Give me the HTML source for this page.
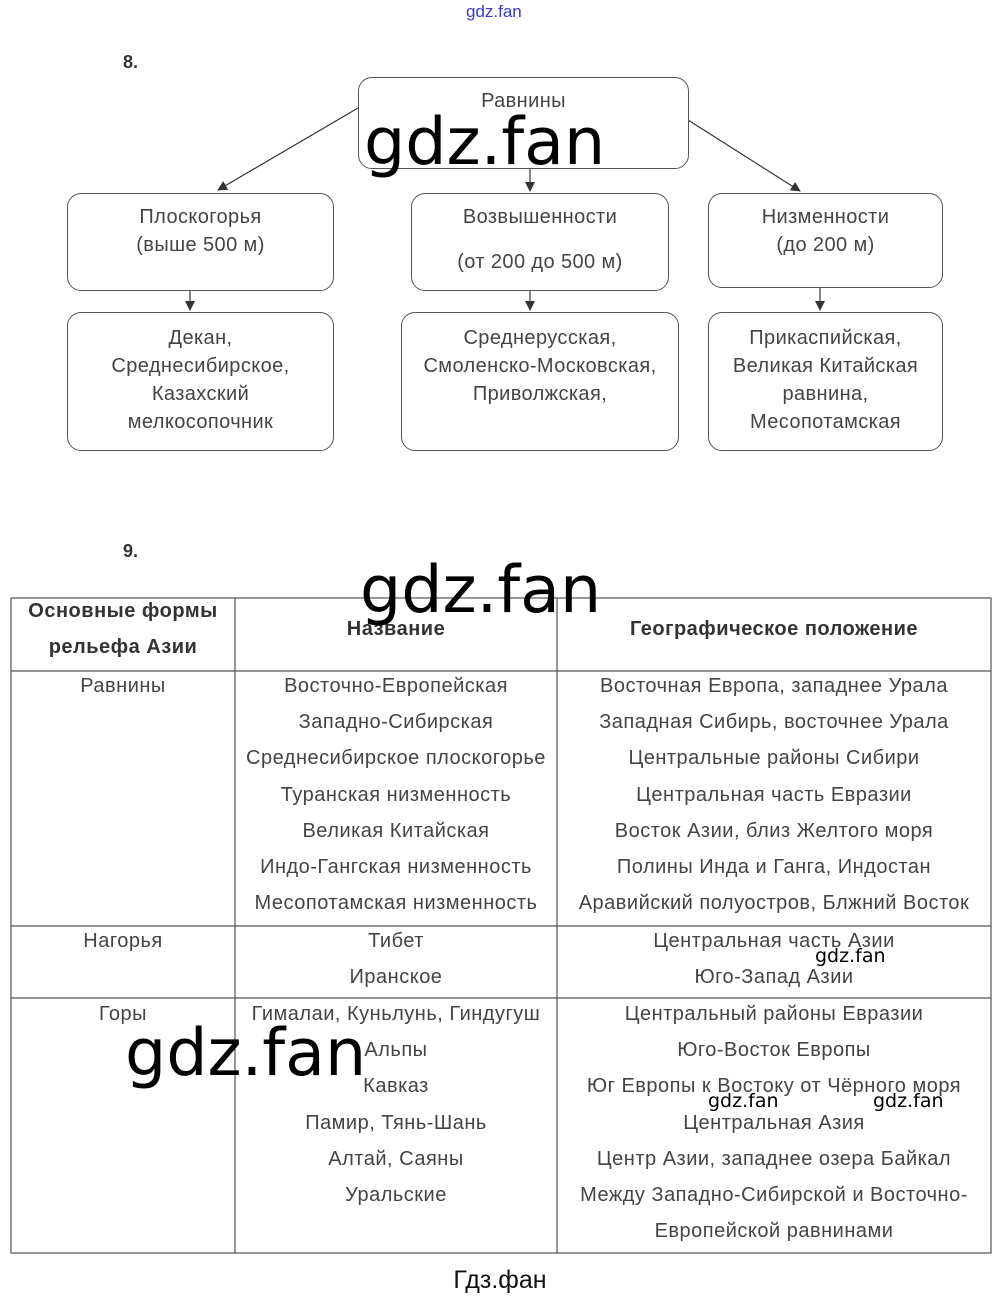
<!DOCTYPE html>
<html><head><meta charset="utf-8"><style>
body{margin:0;width:1000px;height:1300px;background:#fff;position:relative;font-family:"Liberation Sans","DejaVu Sans",sans-serif;color:#444;overflow:hidden}
.a{position:absolute}
.box{position:absolute;border:1.3px solid #555;border-radius:14px;box-sizing:border-box;text-align:center;font-size:20px;letter-spacing:0.4px;line-height:28px}
.wm{position:absolute;color:#000;font-size:65px;line-height:1;font-family:"DejaVu Sans","Liberation Sans",sans-serif}
.sw{position:absolute;color:#000;font-size:19px;line-height:1;font-family:"DejaVu Sans",sans-serif}
.c{position:absolute;text-align:center;font-size:20px;letter-spacing:0.5px;line-height:36.2px}
</style></head><body>
<div class="a" style="left:466px;top:2px;font-size:17px;color:#3a3ad0">gdz.fan</div>
<div class="a" style="left:123px;top:52px;font-size:18px;font-weight:bold;color:#333">8.</div>
<svg class="a" style="left:0;top:0" width="1000" height="500">
<defs><marker id="m" markerWidth="10" markerHeight="10" refX="9" refY="5" orient="auto" markerUnits="userSpaceOnUse"><path d="M0,0L10,5L0,10z" fill="#333"/></marker></defs>
<g stroke="#333" stroke-width="1.2" marker-end="url(#m)">
<line x1="358" y1="108" x2="218" y2="190"/>
<line x1="530" y1="168" x2="530" y2="191"/>
<line x1="688" y1="120" x2="800" y2="191"/>
<line x1="190" y1="290" x2="190" y2="310"/>
<line x1="530" y1="290" x2="530" y2="310"/>
<line x1="820" y1="287" x2="820" y2="310"/>
</g></svg>
<div class="box" style="left:358px;top:77px;width:331px;height:92px;padding-top:9px">Равнины</div>
<div class="box" style="left:67px;top:193px;width:267px;height:98px;padding-top:9px">Плоскогорья<br>(выше 500 м)</div>
<div class="box" style="left:411px;top:193px;width:258px;height:98px;padding-top:9px">Возвышенности<br><span style="position:relative;top:17px">(от 200 до 500 м)</span></div>
<div class="box" style="left:708px;top:193px;width:235px;height:95px;padding-top:9px">Низменности<br>(до 200 м)</div>
<div class="box" style="left:67px;top:312px;width:267px;height:139px;padding-top:11px">Декан,<br>Среднесибирское,<br>Казахский<br>мелкосопочник</div>
<div class="box" style="left:401px;top:312px;width:278px;height:139px;padding-top:11px">Среднерусская,<br>Смоленско-Московская,<br>Приволжская,</div>
<div class="box" style="left:708px;top:312px;width:235px;height:139px;padding-top:11px">Прикаспийская,<br>Великая Китайская<br>равнина,<br>Месопотамская</div>
<div class="a" style="left:123px;top:541px;font-size:18px;font-weight:bold;color:#333">9.</div>
<svg class="a" style="left:0;top:0" width="1000" height="1300">
<g stroke="#555" stroke-width="1.2" fill="none">
<rect x="11" y="598" width="980" height="655"/>
<line x1="235" y1="598" x2="235" y2="1253"/>
<line x1="557" y1="598" x2="557" y2="1253"/>
<line x1="11" y1="671" x2="991" y2="671"/>
<line x1="11" y1="926" x2="991" y2="926"/>
<line x1="11" y1="998" x2="991" y2="998"/>
</g></svg>
<div class="c" style="left:11px;top:593px;width:224px;font-weight:bold;color:#333">Основные формы<br>рельефа Азии</div>
<div class="c" style="left:235px;top:611px;width:322px;font-weight:bold;color:#333">Название</div>
<div class="c" style="left:557px;top:611px;width:434px;font-weight:bold;color:#333">Географическое положение</div>
<div class="c" style="left:11px;top:668px;width:224px">Равнины</div>
<div class="c" style="left:235px;top:668px;width:322px">Восточно-Европейская<br>Западно-Сибирская<br>Среднесибирское плоскогорье<br>Туранская низменность<br>Великая Китайская<br>Индо-Гангская низменность<br>Месопотамская низменность</div>
<div class="c" style="left:557px;top:668px;width:434px">Восточная Европа, западнее Урала<br>Западная Сибирь, восточнее Урала<br>Центральные районы Сибири<br>Центральная часть Евразии<br>Восток Азии, близ Желтого моря<br>Полины Инда и Ганга, Индостан<br>Аравийский полуостров, Блжний Восток</div>
<div class="c" style="left:11px;top:923px;width:224px">Нагорья</div>
<div class="c" style="left:235px;top:923px;width:322px">Тибет<br>Иранское</div>
<div class="c" style="left:557px;top:923px;width:434px">Центральная часть Азии<br>Юго-Запад Азии</div>
<div class="c" style="left:11px;top:996px;width:224px">Горы</div>
<div class="c" style="left:235px;top:996px;width:322px">Гималаи, Куньлунь, Гиндугуш<br>Альпы<br>Кавказ<br>Памир, Тянь-Шань<br>Алтай, Саяны<br>Уральские</div>
<div class="c" style="left:557px;top:996px;width:434px">Центральный районы Евразии<br>Юго-Восток Европы<br>Юг Европы к Востоку от Чёрного моря<br>Центральная Азия<br>Центр Азии, западнее озера Байкал<br>Между Западно-Сибирской и Восточно-<br>Европейской равнинами</div>
<div class="wm" style="left:364px;top:110px">gdz.fan</div>
<div class="wm" style="left:360px;top:558px">gdz.fan</div>
<div class="wm" style="left:125px;top:1021px">gdz.fan</div>
<div class="sw" style="left:815px;top:947px">gdz.fan</div>
<div class="sw" style="left:708px;top:1092px">gdz.fan</div>
<div class="sw" style="left:873px;top:1092px">gdz.fan</div>
<div class="a" style="left:0;width:1000px;top:1266px;text-align:center;font-size:25px;color:#111">Гдз.фан</div>
</body></html>
